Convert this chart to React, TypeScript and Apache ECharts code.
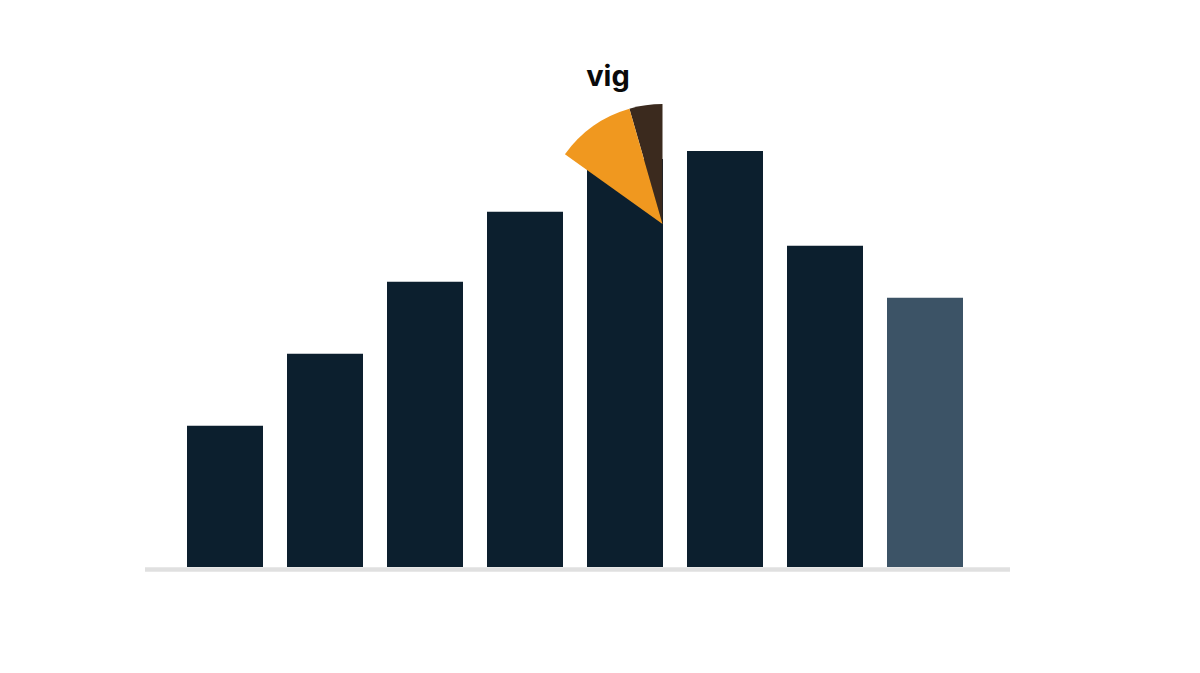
import React, { useEffect, useRef } from "react";
import * as echarts from "echarts";

const categories = ["1", "2", "3", "4", "5", "6", "7", "8"];
const barValues = [35.3, 53.3, 71.3, 88.8, 102, 104, 80.3, 67.3];
const highlightIndex = 7;
const pieLabels = ["dark", "orange", "rest"];
const pieValues = [16, 38.4, 305.6];
const annotation = "vig";

export default function App() {
  const ref = useRef<HTMLDivElement>(null);
  useEffect(() => {
    document.body.style.margin = "0";
    const chart = echarts.init(ref.current!, undefined, { renderer: "svg" });
    chart.setOption({
      animation: false,
      backgroundColor: "#ffffff",
      grid: { left: 175, width: 800, top: 67, height: 500 },
      xAxis: {
        type: "category",
        data: categories,
        axisLine: { show: false },
        axisTick: { show: false },
        axisLabel: { show: false },
      },
      yAxis: {
        type: "value",
        min: 0,
        max: 125,
        show: false,
        splitLine: { show: false },
      },
      graphic: [
        {
          type: "line",
          shape: { x1: 145, y1: 569.5, x2: 1010, y2: 569.5 },
          style: { stroke: "#e0e0e0", lineWidth: 4.5 },
          z: 1,
        },
        {
          type: "text",
          x: 608,
          y: 75,
          style: {
            text: annotation,
            font: "bold 29px Inter, 'Noto Sans', sans-serif",
            fill: "#0a0a0a",
            textAlign: "center",
            textVerticalAlign: "middle",
          },
        },
      ],
      series: [
        {
          type: "bar",
          data: barValues.map((v, i) => ({
            value: v,
            itemStyle: { color: i === highlightIndex ? "#3c5366" : "#0c1f2e" },
          })),
          barWidth: 76,
          z: 2,
        },
        {
          type: "pie",
          center: [662.5, 224],
          radius: [0, 120],
          startAngle: 90,
          clockwise: false,
          silent: true,
          avoidLabelOverlap: false,
          minAngle: 0,
          label: { show: false },
          labelLine: { show: false },
          emphasis: { disabled: true },
          z: 5,
          data: pieValues.map((v, i) => ({
            name: pieLabels[i],
            value: v,
            itemStyle: {
              color: i === 0 ? "#3b2a1e" : i === 1 ? "#f0981f" : "rgba(0,0,0,0)",
              borderWidth: 0,
            },
          })),
        },
      ],
    });
    return () => chart.dispose();
  }, []);
  return <div ref={ref} style={{ width: 1200, height: 673 }} />;
}
